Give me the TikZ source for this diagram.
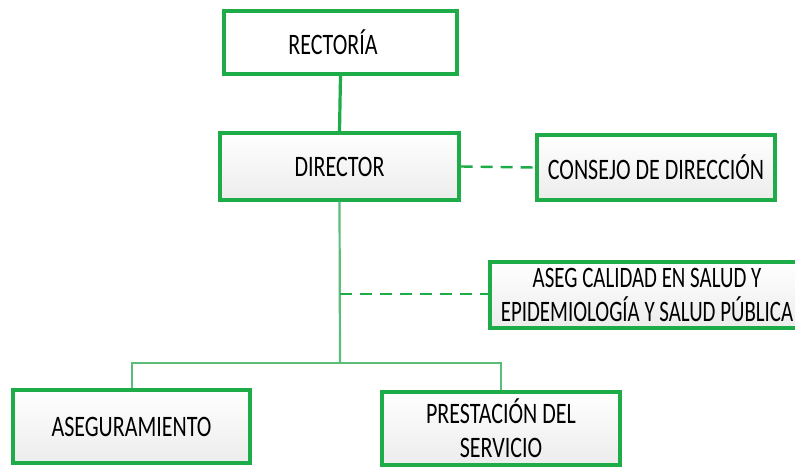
\documentclass[tikz,border=0pt]{standalone}
\usepackage{fontspec}
\setmainfont{Carlito}
\usetikzlibrary{shadows}
\definecolor{grn}{RGB}{30,172,72}
\definecolor{grnl}{RGB}{90,190,120}
\definecolor{boxbot}{RGB}{236,236,236}
\newcommand{\tx}[1]{\scalebox{1}[1.35]{#1}}
\newcommand{\txn}[1]{\scalebox{0.95}[1.35]{#1}}
\begin{document}
\begin{tikzpicture}[x=1pt,y=-1pt,
  box/.style={draw=grn, line width=3.4pt, rectangle, inner sep=0pt, align=center,
     top color=white, bottom color=boxbot, font=\fontsize{22}{30}\selectfont,
     drop shadow={shadow xshift=2pt, shadow yshift=-2pt, opacity=0.25, fill=gray}},
  plainbox/.style={draw=grn, line width=3.4pt, rectangle, inner sep=0pt, fill=white,
     font=\fontsize{22}{30}\selectfont},
  solidline/.style={draw=grn, line width=3.2pt},
  thinline/.style={draw=grnl, line width=2.2pt},
  dashline/.style={draw=grn, line width=2.4pt, dash pattern=on 12pt off 8pt}]
\useasboundingbox (0,0) rectangle (795,466);
\node[plainbox, minimum width=233pt, minimum height=63pt] (rect) at (340.5,42.5) {};
\node[font=\fontsize{22}{30}\selectfont] (rectt) at (333,42) {\tx{RECTORÍA}};
\node[box, minimum width=239pt, minimum height=67pt] (dir) at (339.5,166.5) {\tx{DIRECTOR}};
\node[box, minimum width=238pt, minimum height=65pt] (cons) at (656,167.5) {\tx{CONSEJO DE DIRECCIÓN}};
\node[box, minimum width=314pt, minimum height=66pt] (aseg) at (647,295) {\txn{ASEG CALIDAD EN SALUD Y}\\[4pt]\txn{EPIDEMIOLOGÍA Y SALUD PÚBLICA}};
\node[box, minimum width=237pt, minimum height=73pt] (asegu) at (131.5,426.5) {\tx{ASEGURAMIENTO}};
\node[box, minimum width=238pt, minimum height=73pt] (prest) at (501,428.5) {\tx{PRESTACIÓN DEL}\\[4pt]\tx{SERVICIO}};
\coordinate (j) at (340,363);
\coordinate (d) at (340,294);
\draw[solidline] (rect.south) -- (dir.north);
\draw[thinline] (dir.south) -- (j);
\draw[thinline] (asegu.north -| 132,0) |- (j) -| (prest.north);
\draw[dashline] (dir.east) -- (cons.west);
\draw[dashline] (d) -- (aseg.west |- d);
\end{tikzpicture}
\end{document}
